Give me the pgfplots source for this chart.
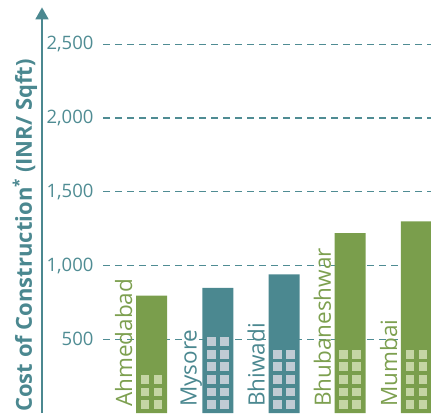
\documentclass[border=0pt]{standalone}
\usepackage{pgfplots}
\pgfplotsset{compat=1.18}
\usepackage{fontspec}
\setmainfont{Open Sans}
\usetikzlibrary{arrows.meta}
\definecolor{barG}{RGB}{122,158,76}
\definecolor{barT}{RGB}{75,136,144}
\definecolor{winG}{RGB}{197,213,164}
\definecolor{winT}{RGB}{192,203,212}
\definecolor{txtT}{RGB}{79,140,147}
\definecolor{txtG}{RGB}{125,160,80}
\begin{document}
\begin{tikzpicture}
\path[use as bounding box] (0,0) rectangle (431pt,413pt);
\begin{axis}[
  at={(42pt,0pt)}, anchor=south west,
  scale only axis, width=389pt, height=405.6pt,
  xmin=-1.653, xmax=4.219, ymin=0, ymax=2750,
  clip=false,
  axis x line=none,
  axis y line=left,
  axis line style={barT, line width=1.8pt, -{Triangle[width=13pt,length=12pt]}},
  ytick={500,1000,1500,2000,2500},
  major tick length=0pt,
  yticklabel style={color=txtT, font=\fontsize{18.5}{20}\selectfont, anchor=east, xshift=55pt},
  /pgf/number format/.cd, 1000 sep={,}, assume math mode=true,
]
% dashed reference lines
\addplot[txtT, line width=1.3pt, dash pattern=on 6.5pt off 5.5pt] coordinates {(-0.732,500) (4.4,500)};
\addplot[txtT, line width=1.3pt, dash pattern=on 6.5pt off 5.5pt] coordinates {(-0.732,1000) (4.4,1000)};
\addplot[txtT, line width=1.3pt, dash pattern=on 6.5pt off 5.5pt] coordinates {(-0.732,1500) (4.4,1500)};
\addplot[txtT, line width=1.3pt, dash pattern=on 6.5pt off 5.5pt] coordinates {(-0.732,2000) (4.4,2000)};
\addplot[txtT, line width=1.3pt, dash pattern=on 6.5pt off 5.5pt] coordinates {(-0.732,2500) (4.4,2500)};
% bars
\addplot[ybar, bar width=31pt, bar shift=0pt, fill=barG, draw=none] coordinates {(0,795) (3,1220) (4,1300)};
\addplot[ybar, bar width=31pt, bar shift=0pt, fill=barT, draw=none] coordinates {(1,848) (2,940)};
% windows
\addplot[only marks, mark=square*, mark size=3.9pt, mark options={solid, fill=winG, draw=winG, line width=0pt}] coordinates {
(-0.098,58) (0.098,58) (-0.098,143) (0.098,143) (-0.098,228) (0.098,228)
(2.902,58) (3.098,58) (2.902,143) (3.098,143) (2.902,228) (3.098,228) (2.902,313) (3.098,313) (2.902,398) (3.098,398)
(3.902,58) (4.098,58) (3.902,143) (4.098,143) (3.902,228) (4.098,228) (3.902,313) (4.098,313) (3.902,398) (4.098,398)
};
\addplot[only marks, mark=square*, mark size=3.9pt, mark options={solid, fill=winT, draw=winT, line width=0pt}] coordinates {
(0.902,58) (1.098,58) (0.902,143) (1.098,143) (0.902,228) (1.098,228) (0.902,313) (1.098,313) (0.902,398) (1.098,398) (0.902,483) (1.098,483)
(1.902,58) (2.098,58) (1.902,143) (2.098,143) (1.902,228) (2.098,228) (1.902,313) (2.098,313) (1.902,398) (2.098,398)
};
% category labels
\node[rotate=90, anchor=base west, text=txtG, font=\fontsize{22.5}{24}\selectfont, inner sep=0pt] at (axis cs:-0.294,41) {Ahmedabad};
\node[rotate=90, anchor=base west, text=barT, font=\fontsize{22.5}{24}\selectfont, inner sep=0pt] at (axis cs:0.68,41) {Mysore};
\node[rotate=90, anchor=base west, text=barT, font=\fontsize{22.5}{24}\selectfont, inner sep=0pt] at (axis cs:1.706,41) {Bhiwadi};
\node[rotate=90, anchor=base west, text=txtG, font=\fontsize{22.5}{24}\selectfont, inner sep=0pt] at (axis cs:2.706,41) {Bhubaneshwar};
\node[rotate=90, anchor=base west, text=txtG, font=\fontsize{22.5}{24}\selectfont, inner sep=0pt] at (axis cs:3.706,41) {Mumbai};
% y label
\node[rotate=90, anchor=base west, text=barT, font=\bfseries\fontsize{22}{24}\selectfont, inner sep=0pt] at ([xshift=-10pt,yshift=1pt]rel axis cs:0,0) {Cost of Construction\textsuperscript{*} (INR/ Sqft)};
\end{axis}
\end{tikzpicture}
\end{document}
